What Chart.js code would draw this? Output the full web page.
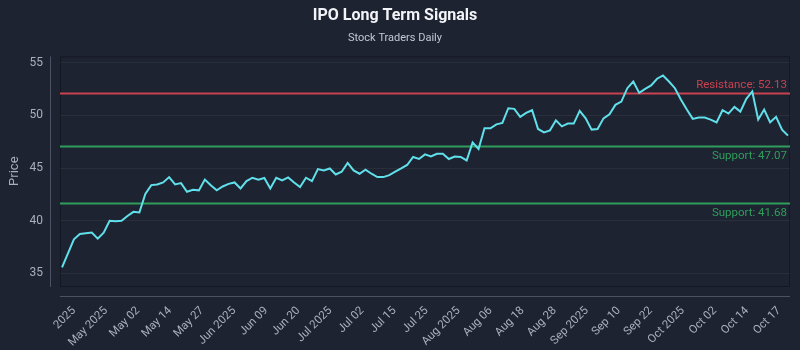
<!DOCTYPE html>
<html>
<head>
<meta charset="utf-8">
<script src="https://cdn.jsdelivr.net/npm/chart.js@4.4.1/dist/chart.umd.min.js"></script>
<style>
  html, body { margin: 0; padding: 0; background: #1e2331; }
  #wrap { width: 800px; height: 350px; position: relative; }
</style>
</head>
<body>
<div id="wrap"><canvas id="ipoChart"></canvas></div>
<script>
// price readings, one per trading day (left to right)
const prices = [
  35.57, 36.90, 38.24, 38.74, 38.80, 38.87, 38.30, 38.87, 40.00, 39.95,
  40.00, 40.45, 40.84, 40.78, 42.55, 43.38, 43.44, 43.63, 44.14, 43.44,
  43.57, 42.75, 42.94, 42.88, 43.90, 43.36, 42.88, 43.25, 43.50, 43.63,
  43.06, 43.76, 44.08, 43.89, 44.05, 43.06, 44.08, 43.82, 44.11, 43.63,
  43.19, 44.08, 43.76, 44.90, 44.77, 44.96, 44.39, 44.65, 45.48, 44.77,
  44.46, 44.84, 44.46, 44.14, 44.14, 44.33, 44.65, 44.96, 45.29, 46.05,
  45.86, 46.30, 46.10, 46.36, 46.36, 45.86, 46.10, 46.05, 45.72, 47.44,
  46.81, 48.77, 48.77, 49.15, 49.29, 50.68, 50.62, 49.86, 50.24, 50.49,
  48.71, 48.39, 48.58, 49.53, 48.96, 49.22, 49.22, 50.43, 49.72, 48.65,
  48.71, 49.72, 50.10, 51.00, 51.31, 52.58, 53.22, 52.14, 52.52, 52.84,
  53.48, 53.79, 53.22, 52.58, 51.50, 50.55, 49.67, 49.79, 49.79, 49.60,
  49.34, 50.49, 50.17, 50.81, 50.36, 51.57, 52.27, 49.60, 50.55, 49.34,
  49.86, 48.65, 48.08
];

const xTickLabels = [
  "2025", "May 2025", "May 02", "May 14", "May 27", "Jun 2025", "Jun 09", "Jun 20",
  "Jul 2025", "Jul 02", "Jul 15", "Jul 25", "Aug 2025", "Aug 06", "Aug 18", "Aug 28",
  "Sep 2025", "Sep 10", "Sep 22", "Oct 2025", "Oct 02", "Oct 14", "Oct 17"
];

const yTickValues = [35, 40, 45, 50, 55];

const levelNames = ["Resistance", "Support", "Support"];
const levelValues = [52.13, 47.07, 41.68];
const levelColors = ["#c8434f", "#2f9e5c", "#2f9e5c"];

const FONT = "Roboto, 'Open Sans', sans-serif";
const TEXT = "#a9afbd";

// x ticks sit evenly across the axis, not on trading days
const X_TICK_FIRST = 2.0;
const X_TICK_LAST = 120.5;

const plotFrame = {
  id: "plotFrame",
  beforeDraw(chart) {
    const { ctx, chartArea: a } = chart;
    ctx.save();
    ctx.strokeStyle = "#141824";
    ctx.lineWidth = 1;
    ctx.strokeRect(a.left + 0.5, a.top + 0.5, a.width - 1, a.height);
    // detached axis lines
    ctx.strokeStyle = "#4c5262";
    ctx.beginPath();
    ctx.moveTo(a.left - 9.5, a.top);
    ctx.lineTo(a.left - 9.5, a.bottom + 1);
    ctx.moveTo(a.left, a.bottom + 10.5);
    ctx.lineTo(a.right, a.bottom + 10.5);
    ctx.stroke();
    ctx.restore();
  },
  beforeDatasetsDraw(chart) {
    const { ctx, chartArea: a, scales } = chart;
    ctx.save();
    levelValues.forEach((v, i) => {
      const y = Math.round(scales.y.getPixelForValue(v)) + 0.5;
      ctx.strokeStyle = levelColors[i];
      ctx.lineWidth = 2;
      ctx.beginPath();
      ctx.moveTo(a.left, y);
      ctx.lineTo(a.right, y);
      ctx.stroke();
      ctx.fillStyle = levelColors[i];
      ctx.font = "11.5px " + FONT;
      ctx.textAlign = "right";
      ctx.textBaseline = "middle";
      const above = i === 0;
      ctx.fillText(`${levelNames[i]}: ${v.toFixed(2)}`, a.right - 3, above ? y - 8 : y + 10);
    });
    ctx.restore();
  }
};

new Chart(document.getElementById("ipoChart").getContext("2d"), {
  type: "line",
  data: {
    datasets: [
      {
        label: "Price",
        data: prices.map((p, i) => ({ x: i, y: p })),
        borderColor: "#5fe0ea",
        borderWidth: 2,
        pointRadius: 0,
        tension: 0,
        fill: false
      }
    ]
  },
  options: {
    responsive: true,
    maintainAspectRatio: false,
    animation: false,
    layout: { padding: { left: 0, right: 10, top: 0, bottom: 0 } },
    scales: {
      x: {
        type: "linear",
        min: -0.34,
        max: 122.34,
        afterBuildTicks: (scale) => {
          const step = (X_TICK_LAST - X_TICK_FIRST) / (xTickLabels.length - 1);
          scale.ticks = xTickLabels.map((_, k) => ({ value: X_TICK_FIRST + k * step }));
        },
        afterFit: (scale) => { scale.height = 64; },
        ticks: {
          autoSkip: false,
          maxRotation: 45,
          minRotation: 45,
          padding: 10,
          color: TEXT,
          font: { family: FONT, size: 11.5 },
          callback: (value, index) => xTickLabels[index]
        },
        grid: { display: false },
        border: { display: false }
      },
      y: {
        min: 33.8,
        max: 55.6,
        afterBuildTicks: (scale) => {
          scale.ticks = yTickValues.map((v) => ({ value: v }));
        },
        afterFit: (scale) => { scale.width = 60; },
        title: {
          display: true,
          text: "Price",
          color: TEXT,
          padding: { top: 7, bottom: 0 },
          font: { family: FONT, size: 13 }
        },
        ticks: {
          padding: 17,
          color: TEXT,
          font: { family: FONT, size: 12 }
        },
        grid: { color: "rgba(255, 255, 255, 0.05)", drawTicks: false },
        border: { display: false }
      }
    },
    plugins: {
      legend: { display: false },
      tooltip: { enabled: false },
      title: {
        display: true,
        text: "IPO Long Term Signals",
        color: "#f2f4f8",
        padding: { top: 6, bottom: 6 },
        font: { family: FONT, size: 16, weight: "bold" }
      },
      subtitle: {
        display: true,
        text: "Stock Traders Daily",
        color: "#c3c8d2",
        padding: { top: 0, bottom: 12 },
        font: { family: FONT, size: 11 }
      }
    }
  },
  plugins: [plotFrame]
});
</script>
</body>
</html>
